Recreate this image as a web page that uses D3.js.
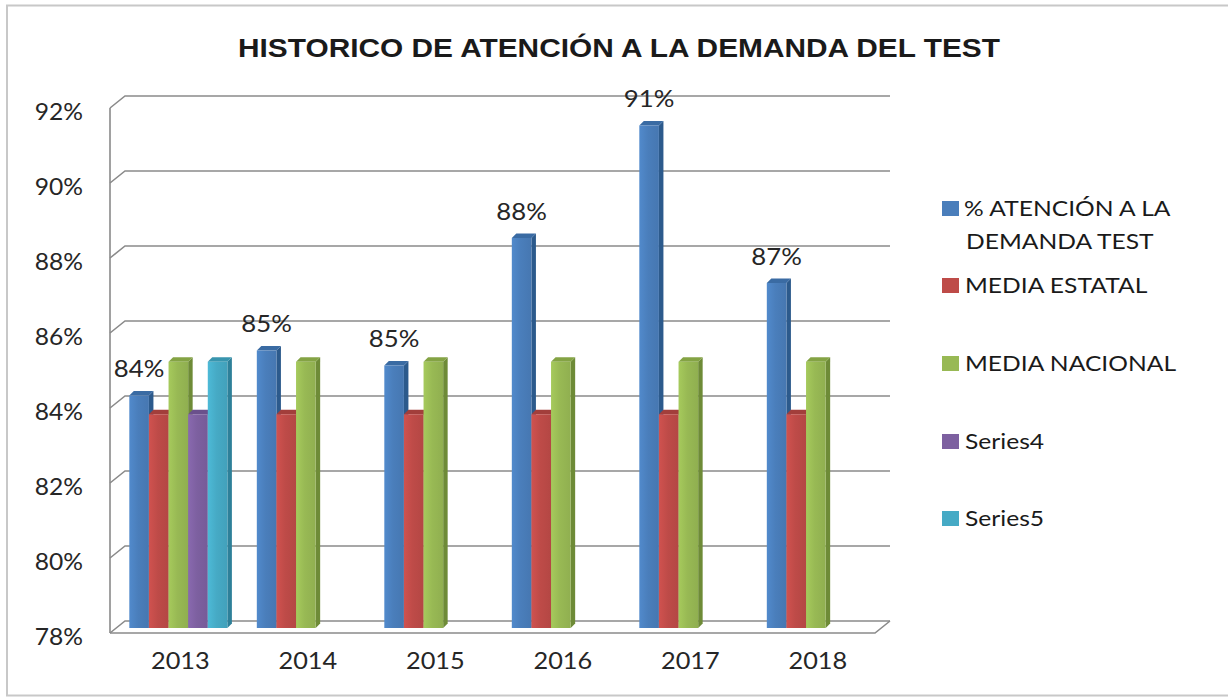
<!DOCTYPE html>
<html><head><meta charset="utf-8">
<script src="https://cdn.jsdelivr.net/npm/d3@7"></script>
<style>body{margin:0;background:#fff}</style>
</head><body>
<svg id="c" width="1228" height="700"></svg>
<script>
const years = ["2013","2014","2015","2016","2017","2018"];
const seriesNames = ["% ATENCIÓN A LA DEMANDA TEST","MEDIA ESTATAL","MEDIA NACIONAL","Series4","Series5"];
const atencion = [84.2, 85.4, 85.0, 88.4, 91.4, 87.2];
const mediaEstatal = [83.7, 83.7, 83.7, 83.7, 83.7, 83.7];
const mediaNacional = [85.1, 85.1, 85.1, 85.1, 85.1, 85.1];
const series4 = [83.7, null, null, null, null, null];
const series5 = [85.1, null, null, null, null, null];
const yTicks = [78, 80, 82, 84, 86, 88, 90, 92];
const colors = ["#4A7EBB","#BE4B48","#98B954","#7D60A0","#46AAC5"];
const sides  = ["#2C5A8C","#8C3331","#6E8B37","#5B437A","#2E8099"];
const tops   = ["#3A6BA3","#A23E3B","#84A344","#6A508C","#3895AE"];
const allSeries = [atencion, mediaEstatal, mediaNacional, series4, series5];

const svg = d3.select("#c");
const defs = svg.append("defs");
colors.forEach((c,i)=>{
  const g = defs.append("linearGradient").attr("id","g"+i).attr("x1","0").attr("x2","1").attr("y1","0").attr("y2","0");
  g.append("stop").attr("offset","0").attr("stop-color", d3.color(c).brighter(0.25));
  g.append("stop").attr("offset","0.45").attr("stop-color", c);
  g.append("stop").attr("offset","1").attr("stop-color", d3.color(c).darker(0.15));
});

// helper: horizontally stretched real text
function stext(parent, x, y, str, size, sx, anchor, fill){
  return parent.append("text").attr("transform",`translate(${x},${y}) scale(${sx},1)`)
    .attr("text-anchor",anchor).attr("font-family","Lato, sans-serif")
    .attr("font-size",size).attr("fill",fill||"#262626").text(str);
}

// border
svg.append("rect").attr("x",7).attr("y",5.5).attr("width",1240).attr("height",690)
  .attr("fill","none").attr("stroke","#c8c8c8").attr("stroke-width",2);

// title
svg.append("text").attr("x",238).attr("y",57)
  .attr("font-family","Liberation Sans, Arial, sans-serif").attr("font-weight","bold")
  .attr("font-size",25).attr("fill","#1a1a1a")
  .attr("textLength",762).attr("lengthAdjust","spacingAndGlyphs")
  .text("HISTORICO DE ATENCIÓN A LA DEMANDA DEL TEST");

// scales
const dx = 15, dy = 12;
const yBack = d3.scaleLinear().domain([78,92]).range([621,96]);
const yFront = v => yBack(v) + dy;
const yBar = d3.scaleLinear().domain([78,92]).range([628,103]);
const xFront0 = 110, xBackEnd = 890;

const x0 = d3.scaleBand().domain(years).range([114.6, 879.6]).padding(0);
const x1 = d3.scaleBand().domain(d3.range(5)).range([0, x0.bandwidth()]).paddingInner(0).paddingOuter(0.75);

const gridC = "#8a8a8a";
yTicks.forEach(v=>{
  svg.append("path").attr("fill","none").attr("stroke",gridC).attr("stroke-width",1.6)
    .attr("d",`M${xFront0},${yFront(v)}L${xFront0+dx},${yBack(v)}L${xBackEnd},${yBack(v)}`);
});
svg.append("line").attr("x1",xFront0).attr("x2",xFront0).attr("y1",yFront(92)).attr("y2",yFront(78))
  .attr("stroke",gridC).attr("stroke-width",1.6);
svg.append("path").attr("fill","none").attr("stroke",gridC).attr("stroke-width",1.6)
  .attr("d",`M${xFront0},${yFront(78)}L${xBackEnd-dx},${yFront(78)}L${xBackEnd},${yBack(78)}`);

// y tick labels
const yl = svg.append("g");
yTicks.forEach(v=> stext(yl, 83, yFront(v)+12, v+"%", 23, 1.07, "end"));

// x labels
const xl = svg.append("g");
years.forEach(d=> stext(xl, x0(d)+x0.bandwidth()/2+2, 669, d, 23, 1.1, "middle"));

// bars
const bd = 4.5;
const bars = svg.append("g");
years.forEach((yr,ci)=>{
  allSeries.forEach((s,si)=>{
    const v = s[ci];
    if (v == null) return;
    const xl = x0(yr) + x1(si), w = x1.bandwidth();
    const yt = yBar(v), yb = yBar(78);
    const g = bars.append("g");
    g.append("path").attr("fill",sides[si])
      .attr("d",`M${xl+w},${yt}L${xl+w+bd},${yt-bd}L${xl+w+bd},${yb-bd}L${xl+w},${yb}Z`);
    g.append("path").attr("fill",tops[si])
      .attr("d",`M${xl},${yt}L${xl+bd},${yt-bd}L${xl+w+bd},${yt-bd}L${xl+w},${yt}Z`);
    g.append("rect").attr("x",xl).attr("y",yt).attr("width",w).attr("height",yb-yt).attr("fill",`url(#g${si})`);
  });
});

// data labels
const fmt = d3.format(".0f");
const dl = svg.append("g");
atencion.forEach((d,i)=> stext(dl, x0(years[i])+x1(0)+x1.bandwidth()/2, yBar(d)-bd-14, fmt(d)+"%", 23, 1.12, "middle"));

// legend
const legY = [216, 293, 371, 449, 526];
const lg = svg.append("g");
seriesNames.forEach((n,i)=>{
  lg.append("rect").attr("x",942).attr("y",legY[i]-15).attr("width",17).attr("height",15).attr("fill",colors[i]);
  if (i===0){
    stext(lg, 964, legY[i], "% ATENCIÓN A LA", 22, 1.12, "start", "#1a1a1a");
    stext(lg, 966, legY[i]+33, "DEMANDA TEST", 22, 1.12, "start", "#1a1a1a");
  } else stext(lg, 965, legY[i], n, 22, 1.12, "start", "#1a1a1a");
});
</script>
</body></html>
